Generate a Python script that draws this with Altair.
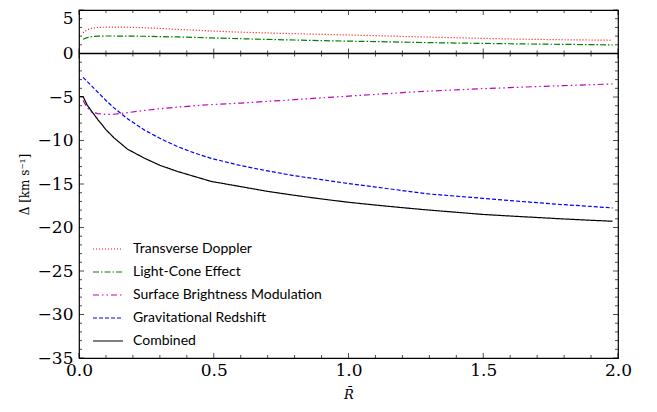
import altair as alt
import pandas as pd

# shared x grid (R-bar)
x_vals = [0.015, 0.03, 0.046, 0.07, 0.1, 0.13, 0.18, 0.244, 0.3, 0.367, 0.43, 0.49,
          0.6, 0.7, 0.8, 0.9, 1.0, 1.1, 1.2, 1.3, 1.4, 1.5, 1.6, 1.7, 1.8, 1.9, 1.98]

transverse_doppler = [2.39, 2.72, 2.9, 2.99, 3.03, 3.04, 3.02, 2.96, 2.88, 2.77, 2.68, 2.59,
                      2.45, 2.36, 2.28, 2.2, 2.13, 2.05, 1.96, 1.88, 1.81, 1.74, 1.67, 1.62, 1.58, 1.55, 1.52]
light_cone = [1.63, 1.82, 1.94, 1.99, 2.01, 2.01, 2.0, 1.98, 1.94, 1.9, 1.85, 1.79,
              1.7, 1.62, 1.55, 1.48, 1.42, 1.37, 1.31, 1.25, 1.2, 1.16, 1.12, 1.08, 1.05, 1.02, 0.99]
surface_brightness = [-5.4, -6.2, -6.73, -6.92, -7.0, -6.98, -6.8, -6.54, -6.35, -6.16, -6.0, -5.87,
                      -5.7, -5.5, -5.3, -5.1, -4.9, -4.7, -4.5, -4.32, -4.18, -4.04, -3.92, -3.8, -3.69, -3.59, -3.5]
grav_redshift = [-2.74, -3.2, -3.7, -4.45, -5.4, -6.25, -7.5, -8.82, -9.75, -10.72, -11.45, -12.05,
                 -12.88, -13.5, -14.05, -14.5, -14.95, -15.35, -15.75, -16.15, -16.4, -16.65, -16.9, -17.15, -17.38, -17.58, -17.75]

x_combined = [0.003] + x_vals
combined = [-4.94, -4.94, -5.9, -6.6, -7.6, -8.75, -9.7, -11.0, -12.05, -12.85, -13.57, -14.15, -14.7,
            -15.3, -15.85, -16.3, -16.72, -17.1, -17.42, -17.72, -18.0, -18.25, -18.5, -18.68, -18.85, -19.02, -19.17, -19.28]

series_names = ["Transverse Doppler", "Light-Cone Effect", "Surface Brightness Modulation",
                "Gravitational Redshift", "Combined"]
series_colors = ["#ff0000", "#008000", "#bf00bf", "#0000ff", "#000000"]
series_dashes = [[1, 2], [6, 2, 1.5, 2], [6, 3, 1.5, 3, 1.5, 3], [4, 2], [1, 0]]

x_major = [0.0, 0.5, 1.0, 1.5, 2.0]
x_minor = [i / 10 for i in range(21) if i % 5]
y_major = [5, 0, -5, -10, -15, -20, -25, -30, -35]
y_minor = [i for i in range(-35, 6) if i % 5]

rows = []
for name, ys in zip(series_names[:4], [transverse_doppler, light_cone, surface_brightness, grav_redshift]):
    for xv, yv in zip(x_vals, ys):
        rows.append({"series": name, "x": xv, "y": yv})
for xv, yv in zip(x_combined, combined):
    rows.append({"series": "Combined", "x": xv, "y": yv})
df = pd.DataFrame(rows)

xscale = alt.Scale(domain=[0, 2], nice=False, zero=False)
yscale = alt.Scale(domain=[-35, 5], nice=False, zero=False)

xaxis = alt.Axis(values=x_major, format=".1f", ticks=False, domain=False, grid=False,
                 labelFlush=False, labelFont="DejaVu Serif", labelFontSize=17, labelPadding=4,
                 labelColor="black", title="R\u0304", titleFont="DejaVu Serif",
                 titleFontStyle="italic", titleFontSize=13, titleFontWeight="normal",
                 titleColor="black", titlePadding=10)
yaxis = alt.Axis(values=y_major, ticks=False, domain=False, grid=False,
                 labelFlush=False, labelFont="DejaVu Serif", labelFontSize=17, labelPadding=6,
                 labelBaseline={"condition": {"test": "datum.value == 5", "value": "top"},
                                "value": "middle"},
                 labelColor="black", title="\u0394 [km s\u207b\u00b9]",
                 titleFont="DejaVu Serif", titleFontSize=12, titleFontWeight="normal",
                 titleColor="black", titlePadding=6)

lines = alt.Chart(df).mark_line(strokeWidth=1.2).encode(
    x=alt.X("x:Q", scale=xscale, axis=xaxis),
    y=alt.Y("y:Q", scale=yscale, axis=yaxis),
    color=alt.Color("series:N", scale=alt.Scale(domain=series_names, range=series_colors),
                    sort=series_names,
                    legend=alt.Legend(title=None, orient="none", legendX=13, legendY=223,
                                      symbolType="stroke", symbolSize=900, symbolStrokeWidth=1.2,
                                      labelFont="Lato", labelFontSize=14, labelColor="black",
                                      labelOffset=9, labelLimit=400, rowPadding=-6, padding=0)),
    strokeDash=alt.StrokeDash("series:N", scale=alt.Scale(domain=series_names, range=series_dashes),
                              sort=series_names, legend=None),
    detail="series:N",
)


def tick_layer(values, axis_val, orient, size, offset):
    d = pd.DataFrame({"v": values})
    if orient == "vertical":
        return alt.Chart(d).mark_tick(orient="vertical", size=size, thickness=1, color="black",
                                      yOffset=offset).encode(
            x=alt.X("v:Q", scale=xscale, axis=xaxis),
            y=alt.Y(datum=axis_val, scale=yscale, axis=yaxis))
    return alt.Chart(d).mark_tick(orient="horizontal", size=size, thickness=1, color="black",
                                  xOffset=offset).encode(
        y=alt.Y("v:Q", scale=yscale, axis=yaxis),
        x=alt.X(datum=axis_val, scale=xscale, axis=xaxis))


MAJ, MIN = 5, 3
ticks = [
    tick_layer(x_major, -35, "vertical", MAJ, -MAJ / 2),
    tick_layer(x_minor, -35, "vertical", MIN, -MIN / 2),
    tick_layer(x_major, 5, "vertical", MAJ, MAJ / 2),
    tick_layer(x_minor, 5, "vertical", MIN, MIN / 2),
    tick_layer(x_major, 0, "vertical", 2 * MAJ, 0),
    tick_layer(x_minor, 0, "vertical", 2 * MIN, 0),
    tick_layer(y_major, 0, "horizontal", MAJ, MAJ / 2),
    tick_layer(y_minor, 0, "horizontal", MIN, MIN / 2),
    tick_layer(y_major, 2, "horizontal", MAJ, -MAJ / 2),
    tick_layer(y_minor, 2, "horizontal", MIN, -MIN / 2),
]

zero_line = alt.Chart(pd.DataFrame({"z": [0]})).mark_rule(color="black", strokeWidth=1.6).encode(
    y=alt.Y("z:Q", scale=yscale, axis=yaxis))

chart = alt.layer(lines, zero_line, *ticks).properties(
    width=539, height=348,
    autosize=alt.AutoSizeParams(type="none"),
    padding={"left": 71, "top": 2, "right": 31, "bottom": 46},
    background="white",
).configure_view(stroke="black", strokeWidth=1.2)

chart.save("out.html", embed_options={"renderer": "svg", "actions": False})
